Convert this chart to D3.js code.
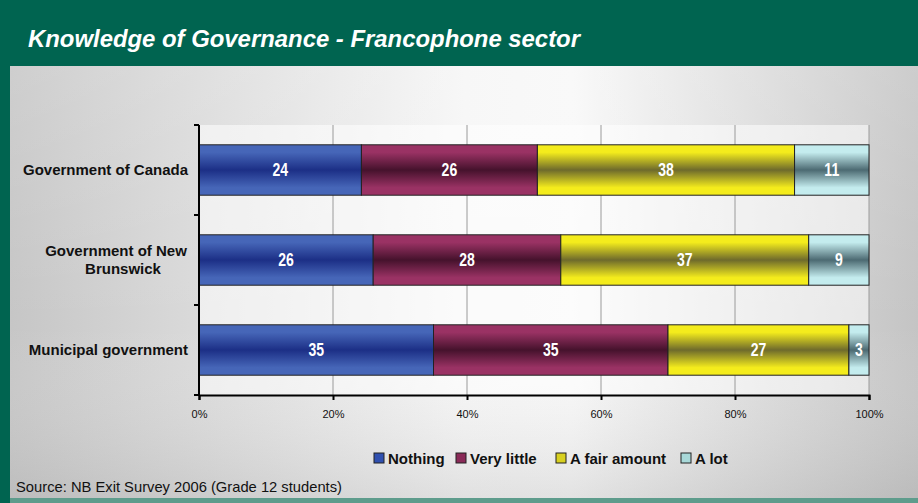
<!DOCTYPE html>
<html>
<head>
<meta charset="utf-8">
<script src="https://cdn.jsdelivr.net/npm/d3@7"></script>
<style>
  body { margin: 0; padding: 0; overflow: hidden; }
  svg { display: block; }
</style>
</head>
<body>
<svg id="chart" width="918" height="503"></svg>
<script>
// **** Data
const categories = ["Government of Canada", "Government of New Brunswick", "Municipal government"];
const series = ["Nothing", "Very little", "A fair amount", "A lot"];
const nothing = [24, 26, 35];
const veryLittle = [26, 28, 35];
const fairAmount = [38, 37, 27];
const aLot = [11, 9, 3];
const tickValues = [0, 0.2, 0.4, 0.6, 0.8, 1];

// colours per series: edge (light) and middle (dark)
const colors = [
  { edge: "#4666b8", mid: "#1c2f86", key: "#3050b0" },
  { edge: "#9a3264", mid: "#45122c", key: "#8a2a58" },
  { edge: "#f4ec1c", mid: "#6e6a2c", key: "#d8d020" },
  { edge: "#c4ecee", mid: "#4c6a72", key: "#a8d8d8" }
];

const FONT = "'Liberation Sans', Arial, sans-serif";

const svg = d3.select("#chart");
const W = 918, H = 503;
const defs = svg.append("defs");

// background gradient
const bg = defs.append("linearGradient").attr("id", "bg").attr("x1", 0).attr("x2", 1).attr("y1", 0).attr("y2", 0);
bg.append("stop").attr("offset", "0%").attr("stop-color", "#c6c6c6");
bg.append("stop").attr("offset", "50%").attr("stop-color", "#f6f6f6");
bg.append("stop").attr("offset", "62%").attr("stop-color", "#f8f8f8");
bg.append("stop").attr("offset", "100%").attr("stop-color", "#c4c4c4");
const bgv = defs.append("linearGradient").attr("id", "bgv").attr("x1", 0).attr("x2", 0).attr("y1", 0).attr("y2", 1);
bgv.append("stop").attr("offset", "0%").attr("stop-color", "#ffffff").attr("stop-opacity", 0.15);
bgv.append("stop").attr("offset", "60%").attr("stop-color", "#ffffff").attr("stop-opacity", 0);
bgv.append("stop").attr("offset", "100%").attr("stop-color", "#a0a0a0").attr("stop-opacity", 0.25);

colors.forEach((c, i) => {
  const g = defs.append("linearGradient").attr("id", "g" + i)
    .attr("x1", 0).attr("x2", 0).attr("y1", 0).attr("y2", 1);
  g.append("stop").attr("offset", "0%").attr("stop-color", c.edge);
  g.append("stop").attr("offset", "15%").attr("stop-color", c.edge);
  g.append("stop").attr("offset", "50%").attr("stop-color", c.mid);
  g.append("stop").attr("offset", "85%").attr("stop-color", c.edge);
  g.append("stop").attr("offset", "100%").attr("stop-color", c.edge);
});

// frame
svg.append("rect").attr("width", W).attr("height", H).attr("fill", "#006450");
svg.append("rect").attr("x", 10).attr("y", 66).attr("width", W - 10).attr("height", 432).attr("fill", "url(#bg)");
svg.append("rect").attr("x", 10).attr("y", 66).attr("width", W - 10).attr("height", 432).attr("fill", "url(#bgv)");
svg.append("rect").attr("x", 0).attr("y", 498).attr("width", W).attr("height", 5).attr("fill", "#5e9c8c");
svg.append("rect").attr("x", 0).attr("y", 498).attr("width", 10).attr("height", 5).attr("fill", "#006450");

// title (narrow face imitated with textLength)
svg.append("text")
  .attr("x", 28).attr("y", 47)
  .attr("fill", "#ffffff")
  .attr("font-family", FONT)
  .attr("font-size", 24).attr("font-weight", "bold").attr("font-style", "italic")
  .attr("textLength", 552).attr("lengthAdjust", "spacingAndGlyphs")
  .text("Knowledge of Governance - Francophone sector");

// **** Scales
const margin = { left: 199, right: 869, top: 125, bottom: 395 };
const x = d3.scaleLinear().domain([0, 1]).range([margin.left, margin.right]);
const y = d3.scaleBand().domain(categories).range([margin.top, margin.bottom]).paddingInner(0.44).paddingOuter(0.22);

// stacked percent data
const table = categories.map((c, i) => ({
  cat: c,
  "Nothing": nothing[i],
  "Very little": veryLittle[i],
  "A fair amount": fairAmount[i],
  "A lot": aLot[i]
}));
const stack = d3.stack().keys(series).offset(d3.stackOffsetExpand);
const stacked = stack(table);

// plot area
svg.append("rect").attr("x", x(0)).attr("y", margin.top)
  .attr("width", x(1) - x(0)).attr("height", margin.bottom - margin.top)
  .attr("fill", "#ffffff").attr("opacity", 0.55);

// gridlines
svg.append("g").selectAll("line").data(tickValues.slice(1))
  .join("line")
  .attr("x1", d => x(d)).attr("x2", d => x(d))
  .attr("y1", margin.top).attr("y2", margin.bottom)
  .attr("stroke", "#9a9a9a").attr("stroke-width", 1);

// bars
const layer = svg.append("g").selectAll("g").data(stacked).join("g")
  .attr("fill", (d, i) => `url(#g${i})`);
layer.selectAll("rect").data(d => d).join("rect")
  .attr("x", d => x(d[0]))
  .attr("y", d => y(d.data.cat))
  .attr("width", d => x(d[1]) - x(d[0]))
  .attr("height", y.bandwidth())
  .attr("stroke", "#222").attr("stroke-width", 1);

// bar labels (condensed look via horizontal scale)
const labels = svg.append("g")
  .attr("font-family", FONT)
  .attr("font-size", 18).attr("font-weight", "bold").attr("fill", "#ffffff")
  .attr("text-anchor", "middle");
stacked.forEach(s => {
  s.forEach(d => {
    const lx = (x(d[0]) + x(d[1])) / 2;
    const ly = y(d.data.cat) + y.bandwidth() / 2 + 6;
    labels.append("text")
      .attr("transform", `translate(${lx},${ly}) scale(0.78,1)`)
      .text(d.data[s.key]);
  });
});

// x axis
const xAxis = d3.axisBottom(x).tickValues(tickValues).tickFormat(d3.format(".0%")).tickSize(5);
const gx = svg.append("g").attr("transform", `translate(0,${margin.bottom})`).call(xAxis);
gx.select(".domain").attr("stroke", "#000").attr("stroke-width", 2);
gx.selectAll(".tick line").attr("stroke", "#000").attr("stroke-width", 2);
gx.selectAll(".tick text").attr("font-family", FONT)
  .attr("font-size", 11).attr("fill", "#111").attr("y", 15).attr("dy", "0.71em");

// y axis (ticks at band boundaries)
const boundaries = [margin.top, ...categories.map((c, i) => y(c) + y.bandwidth() + (y.step() * 0.44) / 2)];
const gy = svg.append("g");
gy.append("line").attr("x1", x(0)).attr("x2", x(0)).attr("y1", margin.top).attr("y2", margin.bottom)
  .attr("stroke", "#000").attr("stroke-width", 2);
gy.selectAll("line.t").data(boundaries).join("line").attr("class", "t")
  .attr("x1", x(0) - 5).attr("x2", x(0)).attr("y1", d => d).attr("y2", d => d)
  .attr("stroke", "#000").attr("stroke-width", 2);

// category labels
const catLab = svg.append("g")
  .attr("font-family", FONT)
  .attr("font-size", 15).attr("font-weight", "bold").attr("fill", "#111");
categories.forEach(c => {
  const cy = y(c) + y.bandwidth() / 2;
  if (c === "Government of New Brunswick") {
    const t = catLab.append("text").attr("text-anchor", "middle").attr("x", 116).attr("y", cy - 4);
    t.append("tspan").attr("x", 116).attr("dy", 0).text("Government of New");
    t.append("tspan").attr("x", 123).attr("dy", 18).text("Brunswick");
  } else {
    catLab.append("text").attr("text-anchor", "end").attr("x", 188).attr("y", cy + 5).text(c);
  }
});

// legend
const legendX = [374, 456, 556, 681];
const legend = svg.append("g")
  .attr("font-family", FONT)
  .attr("font-size", 15).attr("font-weight", "bold").attr("fill", "#111");
series.forEach((s, i) => {
  legend.append("rect").attr("x", legendX[i]).attr("y", 453).attr("width", 10).attr("height", 10)
    .attr("fill", colors[i].key).attr("stroke", "#222").attr("stroke-width", 1);
  legend.append("text").attr("x", legendX[i] + 14).attr("y", 464).text(s);
});

// source
svg.append("text")
  .attr("x", 16).attr("y", 492)
  .attr("font-family", FONT)
  .attr("font-size", 15).attr("fill", "#111")
  .attr("textLength", 326).attr("lengthAdjust", "spacingAndGlyphs")
  .text("Source: NB Exit Survey 2006 (Grade 12 students)");
</script>
</body>
</html>
